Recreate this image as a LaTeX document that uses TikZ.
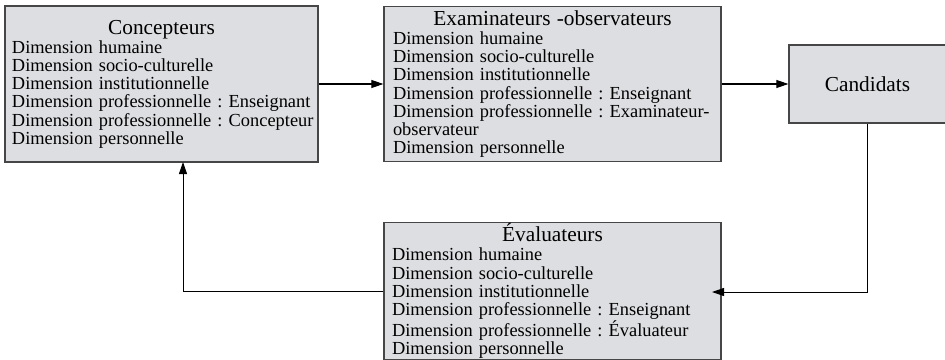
\documentclass[tikz,border=0pt]{standalone}
\usepackage{fontspec}
\setmainfont{Liberation Serif}
\usetikzlibrary{arrows.meta}
\newdimen\px \px=0.75pt
\definecolor{fond}{RGB}{221,222,225}
\definecolor{bord}{RGB}{70,70,70}
\newcommand{\titre}{\fontsize{16}{15}\selectfont}
\frenchspacing
\hyphenpenalty=10000

\begin{document}
\begin{tikzpicture}[x = 0.75pt, y = -0.75pt,
  boite/.style = {draw = bord, line width = 1.3\px, fill = fond, align = left,
    font = \fontsize{13.8}{13.65}\selectfont, inner ysep = 0pt},
  fleche/.style = {-{Triangle[length = 9pt, width = 6pt]}, line width = 0.75pt}]
\useasboundingbox (0, 0) rectangle (945, 360);

\node[boite, minimum width = 313\px, minimum height = 156\px, text width = 299\px,
  inner xsep = 7\px] at (161.5, 84) (conc) {{\centering\titre Concepteurs\par}\vspace{1\px}
Dimension humaine\\
Dimension socio-culturelle\\
Dimension institutionnelle\\
\mbox{Dimension professionnelle : Enseignant}\\
\mbox{Dimension professionnelle : Concepteur}\\
Dimension personnelle};

\node[boite, minimum width = 337\px, minimum height = 155\px, text width = 319\px,
  inner xsep = 9\px] at (552.5, 84) (exam) {{\centering\titre Examinateurs -observateurs\par}\vspace{1\px}
Dimension humaine\\
Dimension socio-culturelle\\
Dimension institutionnelle\\
Dimension professionnelle : Enseignant\\
\makebox[326\px][s]{Dimension professionnelle : Examinateur-}\\
observateur\\
Dimension personnelle};

\node[boite, font = \titre, minimum width = 157\px, minimum height = 78\px] at (867.5, 84) (cand) {Candidats};

\node[boite, minimum width = 337\px, minimum height = 137\px, text width = 321\px,
  inner xsep = 8\px] at (552.5, 291) (eval) {{\centering\titre Évaluateurs\par}\vspace{1\px}
Dimension humaine\\
Dimension socio-culturelle\\
Dimension institutionnelle\\
Dimension professionnelle : Enseignant\\
Dimension professionnelle : Évaluateur\\
Dimension personnelle};

\coordinate (retour) at (712, 292);
\coordinate (montee) at (183, 162);

\draw[fleche] (conc.east) -- (exam.west);
\draw[fleche] (exam.east) -- (cand.west);
\draw[fleche] (cand.south) |- (retour);
\draw[fleche] (eval.west) -| (montee);

\end{tikzpicture}
\end{document}
